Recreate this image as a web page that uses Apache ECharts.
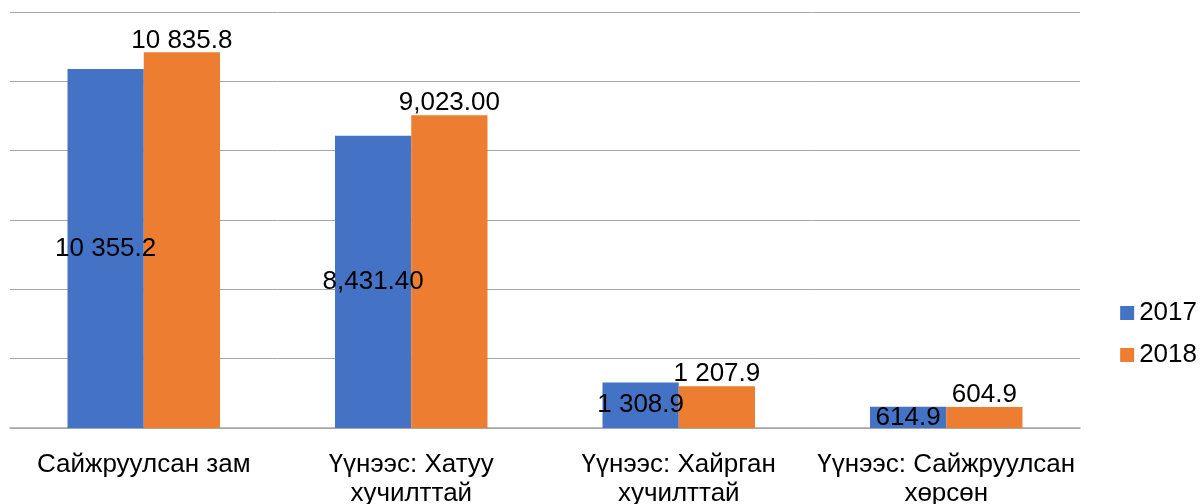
<!DOCTYPE html>
<html>
<head>
<meta charset="utf-8">
<script src="https://cdn.jsdelivr.net/npm/echarts@6/dist/echarts.min.js"></script>
<style>
  html, body { margin: 0; padding: 0; background: #fff; }
  #myChart { width: 1204px; height: 504px; }
</style>
</head>
<body>
<div id="myChart"></div>
<script>
// categories and values
var categories = [
  "Сайжруулсан зам",
  "Үүнээс: Хатуу\nхучилттай",
  "Үүнээс: Хайрган\nхучилттай",
  "Үүнээс: Сайжруулсан\nхөрсөн"
];
var values2017 = [10355.2, 8431.4, 1308.9, 614.9];
var values2018 = [10835.8, 9023.0, 1207.9, 604.9];
var labels2017 = ["10 355.2", "8,431.40", "1 308.9", "614.9"];
var labels2018 = ["10 835.8", "9,023.00", "1 207.9", "604.9"];

var font = "Liberation Sans, Arial, sans-serif";
var myChart = echarts.init(document.getElementById("myChart"));
myChart.setOption({
  animation: false,
  textStyle: { fontFamily: font },
  legend: {
    orient: "vertical",
    right: 2,
    top: 295,
    itemWidth: 14,
    itemHeight: 14,
    itemGap: 16,
    itemTextGap: 8,
    icon: "rect",
    textStyle: { fontSize: 26, color: "#000", fontFamily: font }
  },
  grid: {
    left: 10,
    right: 124,
    top: 12,
    bottom: 76,
    containLabel: false,
    outerBoundsMode: "none"
  },
  xAxis: {
    type: "category",
    data: categories,
    axisLine: { lineStyle: { color: "#a6a6a6", width: 1.5 } },
    axisTick: { show: false },
    axisLabel: {
      interval: 0,
      hideOverlap: false,
      color: "#000",
      fontSize: 26,
      lineHeight: 29,
      margin: 22,
      overflow: "none",
      fontFamily: font
    }
  },
  yAxis: {
    type: "value",
    min: 0,
    max: 12000,
    interval: 2000,
    axisLabel: { show: false },
    axisLine: { show: false },
    axisTick: { show: false },
    splitLine: { lineStyle: { color: "#a6a6a6", width: 1 } }
  },
  series: [
    {
      name: "2017",
      type: "bar",
      barGap: "0%",
      barCategoryGap: "43%",
      itemStyle: { color: "#4472C4" },
      label: {
        show: true,
        position: "inside",
        color: "#000",
        fontSize: 26,
        fontFamily: font,
        formatter: function (p) { return labels2017[p.dataIndex]; }
      },
      data: values2017
    },
    {
      name: "2018",
      type: "bar",
      itemStyle: { color: "#ED7D31" },
      label: {
        show: true,
        position: "top",
        distance: -1,
        color: "#000",
        fontSize: 26,
        fontFamily: font,
        formatter: function (p) { return labels2018[p.dataIndex]; }
      },
      data: values2018
    }
  ]
});
</script>
</body>
</html>
